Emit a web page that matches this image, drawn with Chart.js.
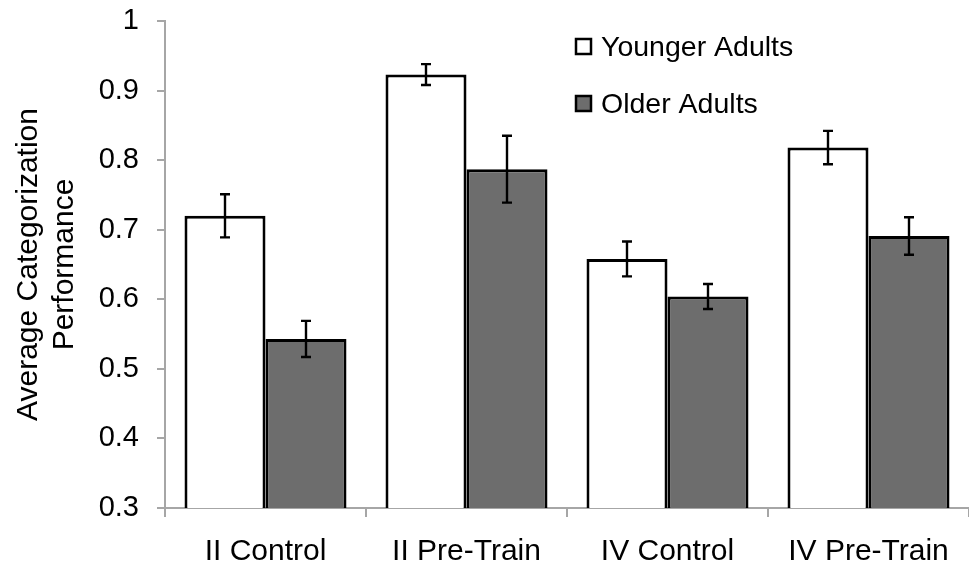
<!DOCTYPE html>
<html lang="en">
<head>
    <meta charset="UTF-8">
    <title>Categorization Performance</title>
    <script src="https://cdn.jsdelivr.net/npm/chart.js@4.4.1/dist/chart.umd.min.js"></script>
    <style>
        body { margin: 0; background: #fff; }
        canvas { display: block; }
    </style>
</head>
<body>

<canvas id="chart_perf" width="969" height="571"
        aria-label="Average Categorization Performance" role="img"></canvas>

<script>
    // values
    const categories = ['II Control', 'II Pre-Train', 'IV Control', 'IV Pre-Train'];
    const seriesNames = ['Younger Adults', 'Older Adults'];
    const youngerMeans = [0.720, 0.923, 0.658, 0.818];
    const youngerErrors = [0.031, 0.015, 0.025, 0.024];
    const olderMeans = [0.543, 0.787, 0.604, 0.691];
    const olderErrors = [0.026, 0.048, 0.018, 0.027];
    const yTicks = [0.3, 0.4, 0.5, 0.6, 0.7, 0.8, 0.9, 1];

    const FONT = "'Liberation Sans', Arial, sans-serif";
    const AXIS_GREY = '#a6a6a6';

    // error bars, drawn from the scale
    const errorBarPlugin = {
        id: 'errorBars',
        afterDatasetsDraw(chart) {
            const ctx = chart.ctx;
            const yScale = chart.scales.y;
            ctx.save();
            ctx.strokeStyle = '#000';
            ctx.lineWidth = 2.4;
            chart.data.datasets.forEach((ds, i) => {
                const meta = chart.getDatasetMeta(i);
                meta.data.forEach((bar, j) => {
                    const v = ds.data[j];
                    const e = ds.errors[j];
                    const yTop = yScale.getPixelForValue(v + e);
                    const yBot = yScale.getPixelForValue(v - e);
                    const cap = 5;
                    ctx.beginPath();
                    ctx.moveTo(bar.x, yTop);
                    ctx.lineTo(bar.x, yBot);
                    ctx.moveTo(bar.x - cap, yTop);
                    ctx.lineTo(bar.x + cap, yTop);
                    ctx.moveTo(bar.x - cap, yBot);
                    ctx.lineTo(bar.x + cap, yBot);
                    ctx.stroke();
                });
            });
            ctx.restore();
        }
    };

    // legend inside the plot, top right
    const insideLegendPlugin = {
        id: 'insideLegend',
        afterDraw(chart) {
            const ctx = chart.ctx;
            const area = chart.chartArea;
            const x0 = area.left + 411;
            let y = area.top + 25;
            ctx.save();
            ctx.font = '28.5px ' + FONT;
            ctx.textBaseline = 'middle';
            chart.data.datasets.forEach(ds => {
                ctx.fillStyle = ds.backgroundColor;
                ctx.fillRect(x0, y - 7, 15, 15);
                ctx.strokeStyle = '#000';
                ctx.lineWidth = 2.5;
                ctx.strokeRect(x0, y - 7, 15, 15);
                ctx.fillStyle = '#000';
                ctx.fillText(ds.label, x0 + 25, y + 2);
                y += 57;
            });
            ctx.restore();
        }
    };

    let chartPerf = new Chart(
        document.getElementById('chart_perf'),
        {
            type: 'bar',
            data: {
                labels: categories,
                datasets: [
                    {
                        label: seriesNames[0],
                        data: youngerMeans,
                        errors: youngerErrors,
                        backgroundColor: '#ffffff',
                        borderColor: '#000000',
                        borderWidth: 3,
                    },
                    {
                        label: seriesNames[1],
                        data: olderMeans,
                        errors: olderErrors,
                        backgroundColor: '#6d6d6d',
                        borderColor: '#000000',
                        borderWidth: 3,
                    },
                ]
            },
            options: {
                responsive: false,
                animation: false,
                layout: {
                    padding: {top: 21, right: 0, left: 0, bottom: 0},
                },
                datasets: {
                    bar: {
                        categoryPercentage: 0.806,
                        barPercentage: 1.0,
                    },
                },
                scales: {
                    x: {
                        afterFit(scale) { scale.height = 63; },
                        grid: {
                            display: true,
                            offset: true,
                            drawOnChartArea: false,
                            color: AXIS_GREY,
                            lineWidth: 2,
                            tickLength: 9,
                        },
                        border: {color: AXIS_GREY, width: 2},
                        ticks: {
                            color: '#000',
                            padding: 17,
                            maxRotation: 0,
                            font: {family: FONT, size: 30},
                        },
                    },
                    y: {
                        min: 0.3,
                        max: 1,
                        afterFit(scale) {
                            scale.width = 165;
                            scale.paddingTop = 0;
                            scale.paddingBottom = 0;
                        },
                        afterBuildTicks(scale) {
                            scale.ticks = yTicks.map(v => ({value: v}));
                        },
                        grid: {
                            display: true,
                            drawOnChartArea: false,
                            color: AXIS_GREY,
                            lineWidth: 2,
                            tickLength: 8,
                        },
                        border: {color: AXIS_GREY, width: 2},
                        ticks: {
                            color: '#000',
                            padding: 18,
                            font: {family: FONT, size: 29},
                            callback: v => String(+v.toFixed(1)),
                        },
                        title: {
                            display: true,
                            text: ['Average Categorization', 'Performance'],
                            color: '#000',
                            font: {family: FONT, size: 30, lineHeight: 1.2},
                            padding: {top: 11, bottom: 0},
                        },
                    },
                },
                plugins: {
                    legend: {display: false},
                    tooltip: {enabled: false},
                },
            },
            plugins: [errorBarPlugin, insideLegendPlugin],
        }
    );
</script>
</body>
</html>
